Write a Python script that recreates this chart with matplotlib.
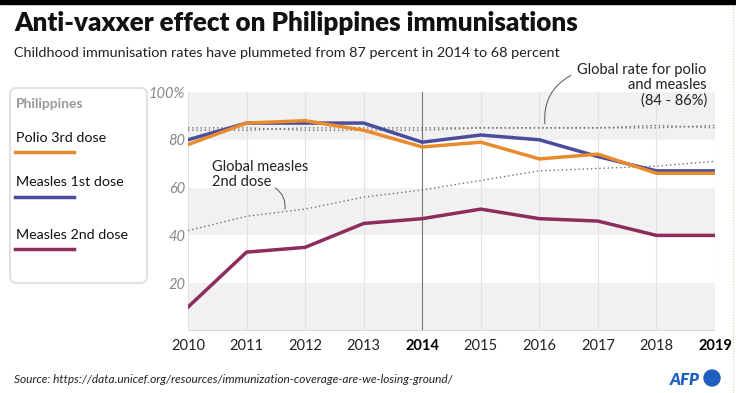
import numpy as np
import matplotlib.pyplot as plt
from matplotlib.patches import FancyBboxPatch, Rectangle, Ellipse
from matplotlib.lines import Line2D

plt.rcParams['font.family'] = ['Lato', 'DejaVu Sans']

years = [2010, 2011, 2012, 2013, 2014, 2015, 2016, 2017, 2018, 2019]
polio3 = [78, 87, 88, 84, 77, 79, 72, 74, 66, 66]
measles1 = [80, 87, 87, 87, 79, 82, 80, 73, 67, 67]
measles2 = [10, 33, 35, 45, 47, 51, 47, 46, 40, 40]
global_mcv2 = [42, 48, 51, 56, 59, 63, 67, 68, 69, 71]
global_polio = [85, 85, 84, 84, 84, 85, 85, 85, 85, 86]
global_mcv1 = [84, 84, 85, 85, 85, 85, 85, 85, 86, 85]

yticks = [20, 40, 60, 80, 100]
ytick_labels = ['20', '40', '60', '80', '100%']
bold_years = [2014, 2019]

c_polio = '#E88B2E'
c_m1 = '#4A4C9C'
c_m2 = '#8C2D5E'

W, H = 736, 393
fig = plt.figure(figsize=(W / 100, H / 100), dpi=100)

# top black bar
fig.patches.append(Rectangle((0, 1 - 4 / H), 1, 4 / H, transform=fig.transFigure,
                             color='black', zorder=5))
# dotted border on the right
fig.add_artist(Line2D([733 / W, 733 / W], [0, 1 - 4 / H], transform=fig.transFigure,
                      color='#d8cfa8', lw=0.8, ls=(0, (1, 1.5))))

fig.text(14 / W, 1 - 31 / H, 'Anti-vaxxer effect on Philippines immunisations',
         fontsize=18.7, fontweight='heavy', color='#111111', va='baseline')
fig.text(14 / W, 1 - 57 / H,
         'Childhood immunisation rates have plummeted from 87 percent in 2014 to 68 percent',
         fontsize=10.4, color='#222222', va='baseline')

ax = fig.add_axes([188 / W, (H - 331) / H, (715 - 188) / W, (331 - 92) / H])
ax.set_xlim(2010, 2019)
ax.set_ylim(0, 100)

for lo in [0, 40, 80]:
    ax.axhspan(lo, lo + 20, color='#f1f1f1', zorder=0, lw=0)
for yr in years:
    ax.axvline(yr, color='#777777' if yr == 2014 else '#dde3e8',
               lw=0.8, zorder=1)
ax.axhline(0, color='#cfd6dc', lw=1.2, zorder=1)

dot = dict(color='#707070', lw=1.0, ls=(0, (1, 2)), zorder=2)
ax.plot(years, global_mcv2, **dot)
ax.plot(years, global_polio, **dot)
ax.plot(years, global_mcv1, **dot)

ax.plot(years, measles1, color=c_m1, lw=2.5, zorder=3, solid_joinstyle='miter')
ax.plot(years, polio3, color=c_polio, lw=2.5, zorder=4, solid_joinstyle='miter')
ax.plot(years, measles2, color=c_m2, lw=2.5, zorder=3, solid_joinstyle='miter')

for s in ax.spines.values():
    s.set_visible(False)
ax.set_yticks(yticks)
ax.set_yticklabels(ytick_labels, fontsize=10.5, style='italic', color='#888888')
ax.tick_params(axis='y', length=0, pad=2)
ax.set_xticks(years)
ax.set_xticklabels([str(y) for y in years], fontsize=10.5, color='#222222')
for lab, yr in zip(ax.get_xticklabels(), years):
    if yr in bold_years:
        lab.set_fontweight('bold')
        lab.set_color('#000000')
ax.tick_params(axis='x', length=0, pad=6)

# annotations
ax.text(2010.41, 71.5, 'Global measles\n2nd dose', fontsize=10.5, color='#222222',
        va='top', ha='left', linespacing=1.1)
ax.annotate('', xy=(2011.65, 49.8), xytext=(2011.45, 60.5),
            arrowprops=dict(arrowstyle='-', color='#555555', lw=0.7,
                            connectionstyle='arc3,rad=-0.35'))
ax.text(2018.86, 112, 'Global rate for polio\nand measles\n(84 - 86%)', fontsize=10.5,
        color='#222222', va='top', ha='right', linespacing=1.1, clip_on=False)
ax.annotate('', xy=(2016.1, 85.5), xytext=(2016.58, 107.5),
            arrowprops=dict(arrowstyle='-', color='#555555', lw=0.7,
                            connectionstyle='arc3,rad=0.35'), annotation_clip=False)

# legend box
fig.patches.append(FancyBboxPatch((10 / W, (H - 283) / H), 137 / W, 195 / H,
                                  boxstyle='round,pad=0,rounding_size=0.009',
                                  mutation_aspect=W / H,
                                  transform=fig.transFigure, fc='white',
                                  ec='#e2e2e2', lw=1.5, zorder=3))
fig.text(16 / W, 1 - 108 / H, 'Philippines', fontsize=10, fontweight='bold',
         color='#999999', va='baseline', zorder=4)
entries = [('Polio 3rd dose', c_polio, 142, 152),
           ('Measles 1st dose', c_m1, 186, 197),
           ('Measles 2nd dose', c_m2, 239, 249)]
for name, col, ty, ly in entries:
    fig.text(16 / W, 1 - ty / H, name, fontsize=10.3, color='#111111',
             va='baseline', zorder=4)
    fig.add_artist(Line2D([15 / W, 74 / W], [1 - ly / H, 1 - ly / H],
                          transform=fig.transFigure, color=col, lw=2.5, zorder=4))

fig.text(14 / W, 1 - 383 / H,
         'Source: https://data.unicef.org/resources/immunization-coverage-are-we-losing-ground/',
         fontsize=8.6, style='italic', color='#222222', va='baseline')
fig.text(700 / W, 1 - 385 / H, 'AFP', fontsize=12, fontweight='heavy', style='italic',
         color='#1f5fbf', ha='right', va='baseline')
fig.patches.append(Ellipse((712 / W, 1 - 378 / H), 16 / W, 16 / H,
                           transform=fig.transFigure, color='#1f5fbf'))

fig.savefig('out.png', dpi=100)
